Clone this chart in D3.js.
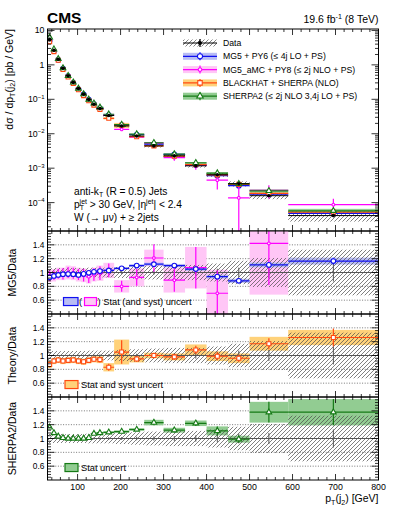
<!DOCTYPE html>
<html>
<head>
<meta charset="utf-8">
<script src="https://cdn.jsdelivr.net/npm/d3@7"></script>
<style>
  body { margin: 0; background: #fff; }
  svg text { font-family: "Liberation Sans", Arial, Helvetica, sans-serif; fill: #000; }
</style>
</head>
<body>
<div id="chart"></div>
<script>
// bin edges of the second jet pT (GeV)
const binEdges = [30, 40, 50, 60, 72, 84, 96, 108, 120, 132, 144, 160, 185, 220, 255, 300, 350, 400, 450, 500, 590, 800];

// measured cross section (pb/GeV) and relative uncertainties
const dataXsec = [5.4, 2.64, 1.45, 0.80, 0.48, 0.31, 0.206, 0.141, 0.098, 0.0716, 0.0538, 0.0338, 0.0168,
  0.00863, 0.00444, 0.00228, 0.00117, 0.000645, 0.000354, 0.000159, 0.000042];
const dataStat = [0.005, 0.006, 0.007, 0.008, 0.009, 0.01, 0.011, 0.012, 0.013, 0.015, 0.016, 0.018, 0.02,
  0.025, 0.03, 0.035, 0.045, 0.055, 0.07, 0.08, 0.13];
const dataTot = [0.07, 0.065, 0.065, 0.065, 0.065, 0.065, 0.065, 0.065, 0.07, 0.07, 0.07, 0.07, 0.08,
  0.09, 0.1, 0.11, 0.11, 0.13, 0.17, 0.21, 0.33];

// theory / data
const mg5Ratio = [0.93, 0.95, 0.965, 0.975, 0.978, 0.975, 0.965, 0.98, 0.995, 1.01, 1.02, 1.03, 1.06,
  1.10, 1.12, 1.10, 1.05, 0.94, 0.88, 1.11, 1.165];
const mg5Err = [0.01, 0.01, 0.01, 0.012, 0.012, 0.012, 0.013, 0.014, 0.015, 0.015, 0.016, 0.017, 0.018,
  0.02, 0.022, 0.024, 0.026, 0.028, 0.03, 0.035, 0.05];

const amcRatio = [0.95, 0.96, 0.98, 0.98, 1.0, 0.99, 0.97, 0.96, 0.94, 0.97, 0.99, 1.03, 0.80,
  0.93, 1.21, 0.89, 1.07, 0.70, 0.39, 1.42, 2.08];
const amcErr = [0.07, 0.07, 0.07, 0.08, 0.08, 0.08, 0.08, 0.09, 0.09, 0.09, 0.1, 0.1, 0.08,
  0.12, 0.2, 0.17, 0.3, 0.33, 0.43, 0.6, 1.0];
const amcSyst = [0.09, 0.09, 0.09, 0.09, 0.1, 0.1, 0.1, 0.1, 0.1, 0.1, 0.11, 0.11, 0.09,
  0.13, 0.12, 0.18, 0.3, 0.34, 0.45, 0.74, 1.1];

const bhRatio = [0.87, 0.92, 0.935, 0.92, 0.93, 0.935, 0.92, 0.91, 0.93, 0.945, 0.94, 0.83, 1.05,
  0.95, 1.0, 0.98, 1.08, 0.99, 0.96, 1.17, 1.26];
const bhErr = [0.04, 0.035, 0.035, 0.035, 0.035, 0.035, 0.035, 0.035, 0.035, 0.035, 0.04, 0.05, 0.17,
  0.04, 0.04, 0.04, 0.06, 0.06, 0.05, 0.08, 0.13];
const bhSyst = [0.05, 0.045, 0.045, 0.045, 0.045, 0.045, 0.045, 0.045, 0.045, 0.045, 0.05, 0.06, 0.18,
  0.05, 0.04, 0.05, 0.08, 0.07, 0.07, 0.1, 0.11];

const sherpaRatio = [1.16, 1.08, 1.03, 1.01, 1.0, 1.0, 1.0, 1.0, 1.01, 1.07, 1.08, 1.09, 1.10,
  1.13, 1.23, 1.12, 1.22, 1.11, 0.99, 1.38, 1.38];
const sherpaErr = [0.02, 0.015, 0.012, 0.012, 0.012, 0.012, 0.012, 0.012, 0.012, 0.014, 0.015, 0.015, 0.018,
  0.02, 0.04, 0.035, 0.04, 0.065, 0.05, 0.15, 0.19];

const xTickLabels = [100, 200, 300, 400, 500, 600, 700, 800];
const ratioTickLabels = [0.6, 0.8, 1, 1.2, 1.4];
const logTickLabels = [
  { v: 10, base: "10", exp: "" }, { v: 1, base: "1", exp: "" }, { v: 0.1, base: "10", exp: "−1" },
  { v: 0.01, base: "10", exp: "−2" }, { v: 0.001, base: "10", exp: "−3" }, { v: 0.0001, base: "10", exp: "−4" },
];
const legendLabels = ["Data", "MG5 + PY6 (≤ 4j LO + PS)", "MG5_aMC + PY8 (≤ 2j NLO + PS)",
  "BLACKHAT + SHERPA (NLO)", "SHERPA2 (≤ 2j NLO 3,4j LO + PS)"];

const bins = d3.range(binEdges.length - 1).map((i) => ({
  i: i, lo: binEdges[i], hi: binEdges[i + 1], c: (binEdges[i] + binEdges[i + 1]) / 2,
}));

const styles = {
  mg5: { line: "#1010f0", band: "#b8bcf4", marker: "circle", size: 17 },
  amc: { line: "#ff00ff", band: "#ffc6f6", marker: "circle", size: 6 },
  bh: { line: "#ff4a10", band: "#ffd27a", marker: "square", size: 16 },
  sherpa: { line: "#157a15", band: "#92cc92", marker: "triangle", size: 14 },
};

const X0 = 47.5, X1 = 378.5;
const x = d3.scaleLinear().domain([30, 800]).range([X0, X1]);
const yTop = d3.scaleLog().domain([1.5e-5, 11]).range([231, 29]);
const ratioPanels = [
  { key: "mg5", y0: 231, y1: 314, title: "MG5/Data" },
  { key: "theory", y0: 314, y1: 397, title: "Theory/Data" },
  { key: "sherpa", y0: 397, y1: 480, title: "SHERPA2/Data" },
];

const svg = d3.select("#chart").append("svg").attr("width", 399).attr("height", 516);
const defs = svg.append("defs");
defs.append("pattern").attr("id", "hatch").attr("patternUnits", "userSpaceOnUse")
  .attr("width", 4).attr("height", 4)
  .append("path").attr("d", "M-1,1 l2,-2 M0,4 l4,-4 M3,5 l2,-2")
  .attr("stroke", "#4a4a4a").attr("stroke-width", 0.7);

function clipFor(id, y0, y1) {
  defs.append("clipPath").attr("id", id).append("rect")
    .attr("x", X0).attr("y", y0).attr("width", X1 - X0).attr("height", y1 - y0);
  return `url(#${id})`;
}

function rich(sel, parts, fs) {
  let cur = 0;
  parts.forEach((p) => {
    const target = p.s === "sup" ? -0.38 * fs : p.s === "sub" ? 0.28 * fs : 0;
    const ts = sel.append("tspan").attr("dy", target - cur).text(p.t);
    if (p.s) ts.attr("font-size", fs * 0.68);
    if (p.dx) ts.attr("dx", p.dx);
    cur = target;
  });
}

const low = (y, v) => Math.max(v, y.domain()[0] * 0.5);

// boxes (band) across the bin width
function drawBoxes(g, y, pts, fill, stroke) {
  g.append("g").selectAll("rect").data(pts).join("rect")
    .attr("x", (d) => x(d.lo)).attr("width", (d) => x(d.hi) - x(d.lo))
    .attr("y", (d) => y(d.v + d.box))
    .attr("height", (d) => y(low(y, d.v - d.box)) - y(d.v + d.box))
    .attr("fill", fill).attr("stroke", stroke || "none");
}

// horizontal line across bin, vertical error bar and marker
function drawMarks(g, y, pts, st) {
  const m = g.append("g");
  m.selectAll("line.h").data(pts).join("line").attr("class", "h")
    .attr("x1", (d) => x(d.lo)).attr("x2", (d) => x(d.hi))
    .attr("y1", (d) => y(d.v)).attr("y2", (d) => y(d.v))
    .attr("stroke", st.line).attr("stroke-width", 1.2);
  m.selectAll("line.v").data(pts).join("line").attr("class", "v")
    .attr("x1", (d) => x(d.c)).attr("x2", (d) => x(d.c))
    .attr("y1", (d) => y(d.v + d.bar)).attr("y2", (d) => y(low(y, d.v - d.bar)))
    .attr("stroke", st.line).attr("stroke-width", 1.2);
  const sym = { circle: d3.symbolCircle, square: d3.symbolSquare, triangle: d3.symbolTriangle }[st.marker];
  m.selectAll("path").data(pts).join("path")
    .attr("transform", (d) => `translate(${x(d.c)},${y(d.v)})`)
    .attr("d", d3.symbol().type(sym).size(st.size))
    .attr("fill", "#fff").attr("stroke", st.line).attr("stroke-width", 1.1);
}

function points(vals, bars, boxes, scale) {
  return bins.map((b, i) => ({
    ...b, v: vals[i] * scale[i], bar: bars[i] * scale[i], box: boxes[i] * scale[i],
  }));
}

function frame(y0, y1, yTicksMajor, yTicksMinor, y) {
  const g = svg.append("g");
  const xMajor = d3.range(100, 801, 100);
  const xMinor = d3.range(40, 800, 20).filter((v) => v % 100 !== 0);
  const seg = (x1, y1_, x2, y2) => g.append("line").attr("x1", x1).attr("y1", y1_).attr("x2", x2).attr("y2", y2)
    .attr("stroke", "#000").attr("stroke-width", 0.8);
  xMajor.forEach((v) => { seg(x(v), y1, x(v), y1 - 6); seg(x(v), y0, x(v), y0 + 6); });
  xMinor.forEach((v) => { seg(x(v), y1, x(v), y1 - 3); seg(x(v), y0, x(v), y0 + 3); });
  yTicksMajor.forEach((v) => { seg(X0, y(v), X0 + 7, y(v)); seg(X1, y(v), X1 - 7, y(v)); });
  yTicksMinor.forEach((v) => { seg(X0, y(v), X0 + 3.5, y(v)); seg(X1, y(v), X1 - 3.5, y(v)); });
  g.append("rect").attr("x", X0).attr("y", y0).attr("width", X1 - X0).attr("height", y1 - y0)
    .attr("fill", "none").attr("stroke", "#000").attr("stroke-width", 1);
  return g;
}

// ---------- top panel ----------
const topG = svg.append("g").attr("clip-path", clipFor("clipTop", 29, 231));
const ones = bins.map(() => 1);
const zeros = bins.map(() => 0);
const dataPts = bins.map((b, i) => ({
  ...b, v: dataXsec[i], bar: dataXsec[i] * dataStat[i], box: dataXsec[i] * dataTot[i],
}));
const topSeries = [
  { st: styles.mg5, pts: points(mg5Ratio, mg5Err, mg5Err, dataXsec) },
  { st: styles.amc, pts: points(amcRatio, amcErr, zeros, dataXsec) },
  { st: styles.bh, pts: points(bhRatio, bhErr, bhSyst, dataXsec) },
  { st: styles.sherpa, pts: points(sherpaRatio, sherpaErr, sherpaErr, dataXsec) },
];
topSeries.forEach((s) => drawBoxes(topG, yTop, s.pts, s.st.band));
drawBoxes(topG, yTop, dataPts, "url(#hatch)");
topSeries.forEach((s) => drawMarks(topG, yTop, s.pts, s.st));
const dm = topG.append("g");
dm.selectAll("line.h").data(dataPts).join("line").attr("class", "h")
  .attr("x1", (d) => x(d.lo)).attr("x2", (d) => x(d.hi)).attr("y1", (d) => yTop(d.v)).attr("y2", (d) => yTop(d.v))
  .attr("stroke", "#000").attr("stroke-width", 1);
dm.selectAll("circle").data(dataPts).join("circle")
  .attr("cx", (d) => x(d.c)).attr("cy", (d) => yTop(d.v)).attr("r", 1.8).attr("fill", "#000");

const logMinor = [];
d3.range(-5, 2).forEach((e) => d3.range(2, 10).forEach((k) => {
  const v = k * Math.pow(10, e);
  if (v > 1.5e-5 && v < 11) logMinor.push(v);
}));
frame(29, 231, logTickLabels.map((d) => d.v), logMinor, yTop);

const ylab = svg.append("g");
logTickLabels.forEach((d) => {
  const t = ylab.append("text").attr("x", 44.5).attr("y", yTop(d.v) + 3).attr("text-anchor", "end")
    .attr("font-size", 8.8);
  if (d.exp) rich(t, [{ t: d.base }, { t: d.exp, s: "sup" }], 8.8);
  else t.text(d.base);
});

const yTitle = svg.append("text").attr("transform", "translate(12.5,29) rotate(-90)")
  .attr("text-anchor", "end").attr("font-size", 10.5);
rich(yTitle, [{ t: "dσ / dp" }, { t: "T", s: "sub" }, { t: "(j" }, { t: "2", s: "sub" }, { t: ")  [pb / GeV]" }], 10.5);

svg.append("text").attr("x", 47).attr("y", 22.5).attr("font-size", 15.5).attr("font-weight", "bold").text("CMS");
const lumi = svg.append("text").attr("x", 378.5).attr("y", 22.5).attr("text-anchor", "end").attr("font-size", 10.5);
rich(lumi, [{ t: "19.6 fb" }, { t: "-1", s: "sup" }, { t: " (8 TeV)" }], 10.5);

// annotations
const ann = svg.append("g").attr("font-size", 10.2);
rich(ann.append("text").attr("x", 74).attr("y", 194.5),
  [{ t: "anti-k" }, { t: "T", s: "sub" }, { t: " (R = 0.5) Jets" }], 10.2);
rich(ann.append("text").attr("x", 74).attr("y", 207.5),
  [{ t: "p" }, { t: "T", s: "sub" }, { t: "jet", s: "sup", dx: -4.3 }, { t: " > 30 GeV, |η" }, { t: "jet", s: "sup" }, { t: "| < 2.4" }], 10.2);
ann.append("text").attr("x", 74).attr("y", 220.5).text("W (→ μν) + ≥ 2jets");

// legend
const leg = svg.append("g");
const legStyles = [null, styles.mg5, styles.amc, styles.bh, styles.sherpa];
legendLabels.forEach((label, i) => {
  const cy = 43 + i * 13.3;
  const lx0 = 183, lx1 = 217, cx = (lx0 + lx1) / 2;
  const st = legStyles[i];
  leg.append("rect").attr("x", lx0).attr("y", cy - 3.5).attr("width", lx1 - lx0).attr("height", 7)
    .attr("fill", st ? st.band : "url(#hatch)");
  const col = st ? st.line : "#000";
  leg.append("line").attr("x1", lx0).attr("x2", lx1).attr("y1", cy).attr("y2", cy).attr("stroke", col).attr("stroke-width", 1.2);
  leg.append("line").attr("x1", cx).attr("x2", cx).attr("y1", cy - 4).attr("y2", cy + 4).attr("stroke", col).attr("stroke-width", 1.2);
  if (st) {
    const sym = { circle: d3.symbolCircle, square: d3.symbolSquare, triangle: d3.symbolTriangle }[st.marker];
    leg.append("path").attr("transform", `translate(${cx},${cy})`).attr("d", d3.symbol().type(sym).size(st.size + 4))
      .attr("fill", "#fff").attr("stroke", col).attr("stroke-width", 1.1);
  } else {
    leg.append("circle").attr("cx", cx).attr("cy", cy).attr("r", 2).attr("fill", "#000");
  }
  leg.append("text").attr("x", 223).attr("y", cy + 3).attr("font-size", 8.7).text(label);
});

// ---------- ratio panels ----------
const ratioMinor = d3.range(0.44, 1.6, 0.04).map((v) => +v.toFixed(2)).filter((v) => Math.abs(v * 5 - Math.round(v * 5)) > 1e-6);
const inRange = (d) => d.v >= 0.4 && d.v <= 1.6;

ratioPanels.forEach((p) => {
  const y = d3.scaleLinear().domain([0.4, 1.6]).range([p.y1, p.y0]);
  const g = svg.append("g").attr("clip-path", clipFor("clip" + p.key, p.y0, p.y1));

  // dotted reference lines
  ratioTickLabels.filter((v) => v !== 1).forEach((v) => {
    g.append("line").attr("x1", X0).attr("x2", X1).attr("y1", y(v)).attr("y2", y(v))
      .attr("stroke", "#555").attr("stroke-width", 0.8).attr("stroke-dasharray", "1,1.6");
  });

  let series = [];
  if (p.key === "mg5") {
    series = [
      { st: styles.amc, pts: points(amcRatio, amcErr, amcSyst, ones).filter(inRange) },
      { st: styles.mg5, pts: points(mg5Ratio, mg5Err, mg5Err, ones).filter(inRange) },
    ];
  } else if (p.key === "theory") {
    series = [{ st: styles.bh, pts: points(bhRatio, bhErr, bhSyst, ones).filter(inRange) }];
  } else {
    series = [{ st: styles.sherpa, pts: points(sherpaRatio, sherpaErr, sherpaErr, ones).filter(inRange) }];
  }
  series.forEach((s) => drawBoxes(g, y, s.pts, s.st.band));

  const dr = bins.map((b, i) => ({ ...b, v: 1, bar: dataStat[i], box: dataTot[i] }));
  drawBoxes(g, y, dr, "url(#hatch)");
  g.append("line").attr("x1", X0).attr("x2", X1).attr("y1", y(1)).attr("y2", y(1))
    .attr("stroke", "#555").attr("stroke-width", 1);
  g.append("g").selectAll("line").data(dr).join("line")
    .attr("x1", (d) => x(d.c)).attr("x2", (d) => x(d.c))
    .attr("y1", (d) => y(1 + d.bar)).attr("y2", (d) => y(1 - d.bar))
    .attr("stroke", "#555").attr("stroke-width", 1);

  series.forEach((s) => drawMarks(g, y, s.pts, s.st));

  frame(p.y0, p.y1, [0.6, 0.8, 1, 1.2, 1.4], ratioMinor, y);

  ratioTickLabels.forEach((v) => {
    svg.append("text").attr("x", 44.5).attr("y", y(v) + 3).attr("text-anchor", "end")
      .attr("font-size", 8.4).text(v);
  });
  svg.append("text").attr("transform", `translate(16,${(p.y0 + p.y1) / 2}) rotate(-90)`)
    .attr("text-anchor", "middle").attr("font-size", 10.5).text(p.title);

  // in-panel legend
  const ly = y(0.58);
  const lg = svg.append("g");
  if (p.key === "mg5") {
    lg.append("rect").attr("x", 63.5).attr("y", ly - 4).attr("width", 14.5).attr("height", 8)
      .attr("fill", styles.mg5.band).attr("stroke", styles.mg5.line).attr("stroke-width", 1.2);
    lg.append("text").attr("x", 79).attr("y", ly + 3.3).attr("font-size", 9.3).text("(");
    lg.append("rect").attr("x", 84.5).attr("y", ly - 4).attr("width", 12).attr("height", 8)
      .attr("fill", styles.amc.band).attr("stroke", styles.amc.line).attr("stroke-width", 1.2);
    lg.append("text").attr("x", 97.5).attr("y", ly + 3.3).attr("font-size", 9.3).text(")  Stat (and syst) uncert");
  } else {
    const st = p.key === "theory" ? styles.bh : styles.sherpa;
    lg.append("rect").attr("x", 65).attr("y", ly - 4).attr("width", 13).attr("height", 8)
      .attr("fill", st.band).attr("stroke", st.line).attr("stroke-width", 1.2);
    lg.append("text").attr("x", 81).attr("y", ly + 3.3).attr("font-size", 9.3)
      .text(p.key === "theory" ? "Stat and syst uncert" : "Stat uncert");
  }
});

// x tick labels and title
xTickLabels.forEach((v) => {
  svg.append("text").attr("x", x(v)).attr("y", 490).attr("text-anchor", "middle")
    .attr("font-size", 8.8).text(v);
});
const xTitle = svg.append("text").attr("x", 378.5).attr("y", 502).attr("text-anchor", "end").attr("font-size", 10.5);
rich(xTitle, [{ t: "p" }, { t: "T", s: "sub" }, { t: "(j" }, { t: "2", s: "sub" }, { t: ") [GeV]" }], 10.5);
</script>
</body>
</html>
